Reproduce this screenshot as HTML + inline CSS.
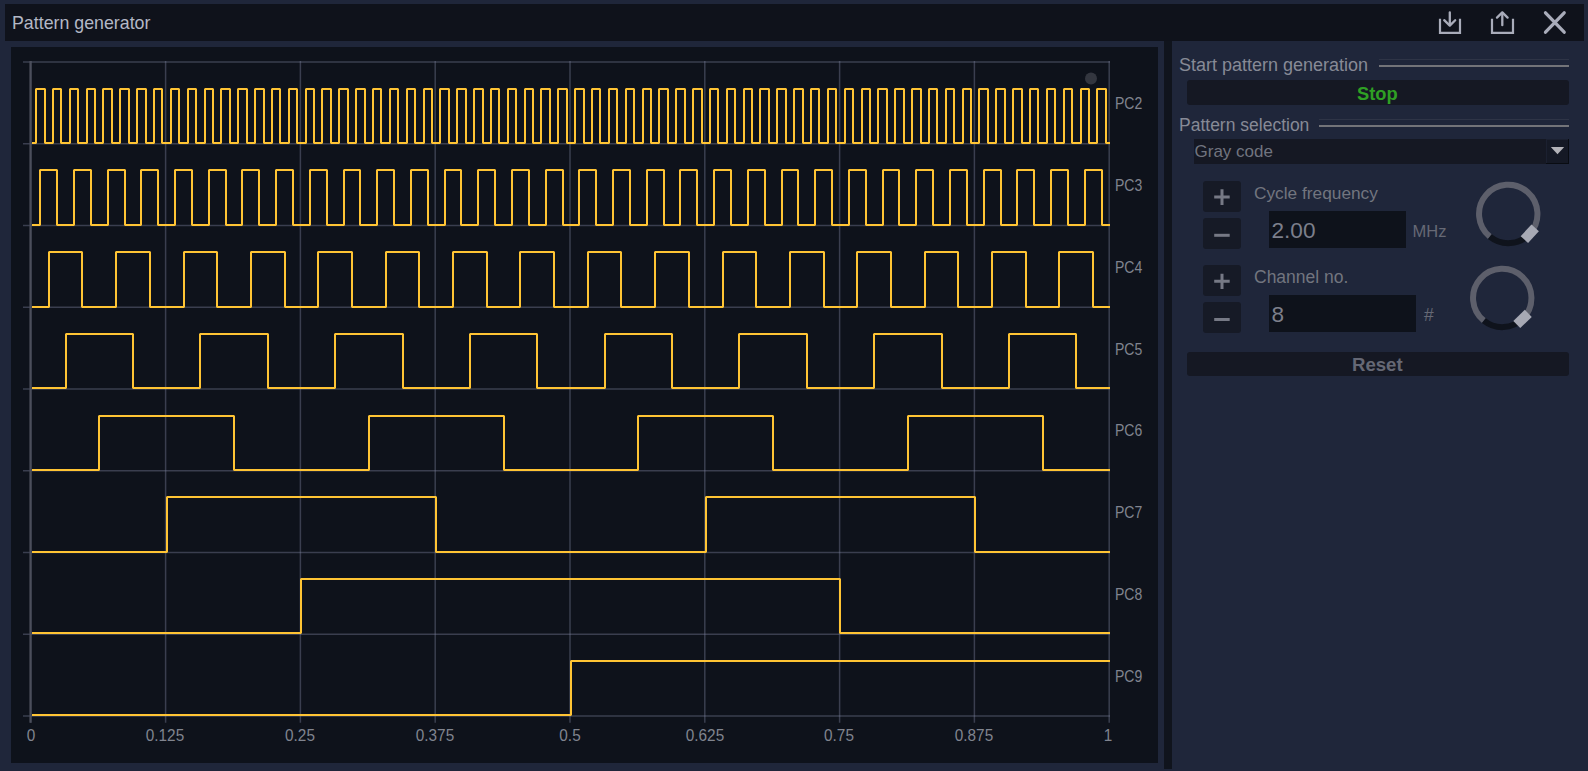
<!DOCTYPE html>
<html><head><meta charset="utf-8">
<style>
html,body{margin:0;padding:0;}
body{width:1588px;height:771px;background:#1f263a;position:relative;overflow:hidden;font-family:"Liberation Sans",sans-serif;}
.abs{position:absolute;}
.t{position:absolute;line-height:0;white-space:nowrap;}
#title{left:0;top:0;}
.xl{position:absolute;top:741px;width:100px;text-align:center;line-height:0;font-size:16.5px;color:#80848f;transform:translateY(-5.72px) scaleX(0.93);}
.pcl{position:absolute;left:1115px;line-height:0;font-size:16.7px;color:#80848f;transform-origin:0 0;transform:translateY(-5.79px) scaleX(0.84);}
</style></head>
<body>
<div class="abs" style="left:5px;top:4px;width:1579px;height:37px;background:#0f121b"></div>
<div class="abs" style="left:11px;top:47px;width:1147px;height:716px;background:#0e121b"></div>
<div class="abs" style="left:1164px;top:41px;width:8px;height:728px;background:#10141d"></div>

<div class="t" style="left:12px;top:29px;font-size:17.8px;color:#b3b8c6;transform:translateY(-6.1px)">Pattern generator</div>

<svg class="abs" style="left:0;top:0" width="1588" height="771" viewBox="0 0 1588 771">
<g stroke="rgba(125,130,158,0.4)" stroke-width="1.5" fill="none">
<path d="M23 62.00H1110" />
<path d="M23 143.75H1110" />
<path d="M23 225.50H1110" />
<path d="M23 307.25H1110" />
<path d="M23 389.00H1110" />
<path d="M23 470.75H1110" />
<path d="M23 552.50H1110" />
<path d="M23 634.25H1110" />
<path d="M23 716.00H1110" />
<path d="M30.80 61V722.7" />
<path d="M165.60 61V722.7" />
<path d="M300.40 61V722.7" />
<path d="M435.20 61V722.7" />
<path d="M570.00 61V722.7" />
<path d="M704.80 61V722.7" />
<path d="M839.60 61V722.7" />
<path d="M974.40 61V722.7" />
<path d="M1109.20 61V722.7" />
</g>
<path d="M30.5 61V722.7" stroke="#4b4e5b" stroke-width="2.2" fill="none"/>
<circle cx="1091" cy="78.5" r="6" fill="#33363f"/>
<g stroke="#ffc434" stroke-width="2" fill="none" stroke-linejoin="bevel">
<path d="M32 143H36V89H45V143H53V89H61V143H70V89H78V143H87V89H95V143H103V89H112V143H120V89H129V143H137V89H146V143H154V89H162V143H171V89H179V143H188V89H196V143H205V89H213V143H221V89H230V143H238V89H247V143H255V89H264V143H272V89H280V143H289V89H297V143H306V89H314V143H322V89H331V143H339V89H348V143H356V89H365V143H373V89H381V143H390V89H398V143H407V89H415V143H424V89H432V143H440V89H449V143H457V89H466V143H474V89H483V143H491V89H499V143H508V89H516V143H525V89H533V143H541V89H550V143H558V89H567V143H575V89H584V143H592V89H600V143H609V89H617V143H626V89H634V143H643V89H651V143H659V89H668V143H676V89H685V143H693V89H702V143H710V89H718V143H727V89H735V143H744V89H752V143H760V89H769V143H777V89H786V143H794V89H803V143H811V89H819V143H828V89H836V143H845V89H853V143H862V89H870V143H878V89H887V143H895V89H904V143H912V89H921V143H929V89H937V143H946V89H954V143H963V89H971V143H979V89H988V143H996V89H1005V143H1013V89H1022V143H1030V89H1038V143H1047V89H1055V143H1064V89H1072V143H1081V89H1089V143H1097V89H1106V143H1110" />
<path d="M32 225H40V170H57V225H74V170H91V225H108V170H125V225H141V170H158V225H175V170H192V225H209V170H226V225H242V170H259V225H276V170H293V225H310V170H327V225H344V170H360V225H377V170H394V225H411V170H428V225H445V170H461V225H478V170H495V225H512V170H529V225H546V170H563V225H579V170H596V225H613V170H630V225H647V170H664V225H680V170H697V225H714V170H731V225H748V170H765V225H782V170H798V225H815V170H832V225H849V170H866V225H883V170H899V225H916V170H933V225H950V170H967V225H984V170H1001V225H1017V170H1034V225H1051V170H1068V225H1085V170H1102V225H1110" />
<path d="M32 307H49V252H82V307H116V252H150V307H184V252H217V307H251V252H285V307H318V252H352V307H386V252H419V307H453V252H487V307H520V252H554V307H588V252H621V307H655V252H689V307H723V252H756V307H790V252H824V307H857V252H891V307H925V252H958V307H992V252H1026V307H1059V252H1093V307H1110" />
<path d="M32 388H66V334H133V388H200V334H268V388H335V334H403V388H470V334H537V388H605V334H672V388H739V334H807V388H874V334H942V388H1009V334H1076V388H1110" />
<path d="M32 470H99V416H234V470H369V416H504V470H638V416H773V470H908V416H1043V470H1110" />
<path d="M32 552H167V497H436V552H706V497H975V552H1110" />
<path d="M32 633H301V579H840V633H1110" />
<path d="M32 715H571V661H1110" />
</g>
<!-- title icons -->
<g stroke="#a9acba" fill="none">
<path d="M1440 18.8V32.9H1460V18.8" stroke-width="2.2"/>
<path d="M1449.8 12.4V25" stroke-width="2.3" stroke-linecap="round"/>
<path d="M1444.2 20.2L1449.8 25.6L1455.2 20.2" stroke-width="2.3" stroke-linecap="round" stroke-linejoin="round"/>
<path d="M1492 18.8V32.9H1513V18.8" stroke-width="2.2"/>
<path d="M1502.3 13V25.2" stroke-width="2.3" stroke-linecap="round"/>
<path d="M1497 17.6L1502.3 12.4L1507.6 17.6" stroke-width="2.3" stroke-linecap="round" stroke-linejoin="round"/>
<path d="M1545.5 12.8L1564.2 32.2M1564.2 12.8L1545.5 32.2" stroke-width="3.3" stroke-linecap="round"/>
</g>
<!-- group lines -->
<path d="M1379 59.5H1569M1319 119.5H1569" stroke="#2e3446" stroke-width="1"/>
<path d="M1379 66H1569M1319 126H1569" stroke="#737479" stroke-width="2"/>
<path d="M1489.87 236.64A29.2 29.2 0 1 1 1529.78 233.68" stroke="#5d5f6b" stroke-width="6" fill="none"/><path d="M1529.78 233.68A29.2 29.2 0 0 1 1489.87 236.64" stroke="#0f131c" stroke-width="6" fill="none"/><rect x="-5" y="-8" width="10" height="16" fill="#a7a9b4" transform="translate(1529.78 233.68) rotate(42.5)"/><path d="M1483.87 320.64A29.2 29.2 0 1 1 1522.53 318.95" stroke="#5d5f6b" stroke-width="6" fill="none"/><path d="M1522.53 318.95A29.2 29.2 0 0 1 1483.87 320.64" stroke="#0f131c" stroke-width="6" fill="none"/><rect x="-5" y="-8" width="10" height="16" fill="#a7a9b4" transform="translate(1522.53 318.95) rotate(46)"/>
</svg>

<div class="xl" style="left:-19.40px">0</div>
<div class="xl" style="left:115.40px">0.125</div>
<div class="xl" style="left:250.20px">0.25</div>
<div class="xl" style="left:385.00px">0.375</div>
<div class="xl" style="left:519.80px">0.5</div>
<div class="xl" style="left:654.60px">0.625</div>
<div class="xl" style="left:789.40px">0.75</div>
<div class="xl" style="left:924.20px">0.875</div>
<div class="xl" style="left:1058.00px">1</div>
<div class="pcl" style="top:109.80px">PC2</div>
<div class="pcl" style="top:191.70px">PC3</div>
<div class="pcl" style="top:273.60px">PC4</div>
<div class="pcl" style="top:355.50px">PC5</div>
<div class="pcl" style="top:437.40px">PC6</div>
<div class="pcl" style="top:519.30px">PC7</div>
<div class="pcl" style="top:601.20px">PC8</div>
<div class="pcl" style="top:683.10px">PC9</div>

<!-- right panel -->
<div class="t" style="left:1179px;top:70.8px;font-size:18px;color:#878a96;transform:translateY(-6.24px)">Start pattern generation</div>
<div class="abs" style="left:1187px;top:80px;width:382px;height:25px;background:#151823;border-radius:3px"></div>
<div class="t" style="left:1357px;top:99.9px;font-size:18.3px;font-weight:bold;color:#2fa024;transform:translateY(-6.34px)">Stop</div>
<div class="t" style="left:1179px;top:131px;font-size:17.5px;color:#878a96;transform:translateY(-6.06px)">Pattern selection</div>
<div class="abs" style="left:1194px;top:139px;width:375px;height:25px;background:#151823"></div>
<div class="abs" style="left:1546px;top:139px;width:21.5px;height:23.5px;background:#151925;border-right:1.5px solid #090c12;border-bottom:1.5px solid #090c12;box-shadow:inset 1px 1px 0 #1b2030"></div>
<div class="t" style="left:1194.5px;top:158px;font-size:17px;color:#71747f;transform:translateY(-5.89px)">Gray code</div>

<div class="abs" style="left:1203px;top:181px;width:37.5px;height:31px;background:#161a26;border-radius:3px"></div>
<div class="abs" style="left:1203px;top:218px;width:37.5px;height:31px;background:#161a26;border-radius:3px"></div>
<div class="abs" style="left:1203px;top:265px;width:37.5px;height:31px;background:#161a26;border-radius:3px"></div>
<div class="abs" style="left:1203px;top:302px;width:37.5px;height:31px;background:#161a26;border-radius:3px"></div>
<svg class="abs" style="left:0;top:0" width="1588" height="771" viewBox="0 0 1588 771">
<path d="M1550.8 147H1564.2L1557.5 154.2Z" fill="#b3b3b8"/>
<g stroke="#767985" stroke-width="3" fill="none">
<path d="M1214.2 197H1229.7M1222 189.3V205"/>
<path d="M1214.2 235.3H1229.7"/>
<path d="M1214.2 281.2H1229.7M1222 273.7V289.1"/>
<path d="M1214.2 319.5H1229.7"/>
</g>
</svg>
<div class="t" style="left:1254px;top:198.8px;font-size:17.3px;color:#72757f;transform:translateY(-6px)">Cycle frequency</div>
<div class="abs" style="left:1269px;top:211px;width:137px;height:37px;background:#0e121b"></div>
<div class="t" style="left:1271.5px;top:238.7px;font-size:22.6px;color:#7c7f8b;transform:translateY(-7.83px)">2.00</div>
<div class="t" style="left:1412.5px;top:237.2px;font-size:16.5px;color:#666975;transform:translateY(-5.7px)">MHz</div>
<div class="t" style="left:1254px;top:283px;font-size:17.5px;color:#72757f;transform:translateY(-6.06px)">Channel no.</div>
<div class="abs" style="left:1269px;top:295px;width:147px;height:37px;background:#0e121b"></div>
<div class="t" style="left:1271.5px;top:322.6px;font-size:22.6px;color:#7c7f8b;transform:translateY(-7.83px)">8</div>
<div class="t" style="left:1424px;top:321.2px;font-size:17.5px;color:#666975;transform:translateY(-6.06px)">#</div>

<div class="abs" style="left:1187px;top:352.4px;width:382px;height:24px;background:#151823;border-radius:3px"></div>
<div class="t" style="left:1352px;top:371.2px;font-size:18.6px;font-weight:bold;color:#656875;transform:translateY(-6.45px)">Reset</div>
</body></html>
